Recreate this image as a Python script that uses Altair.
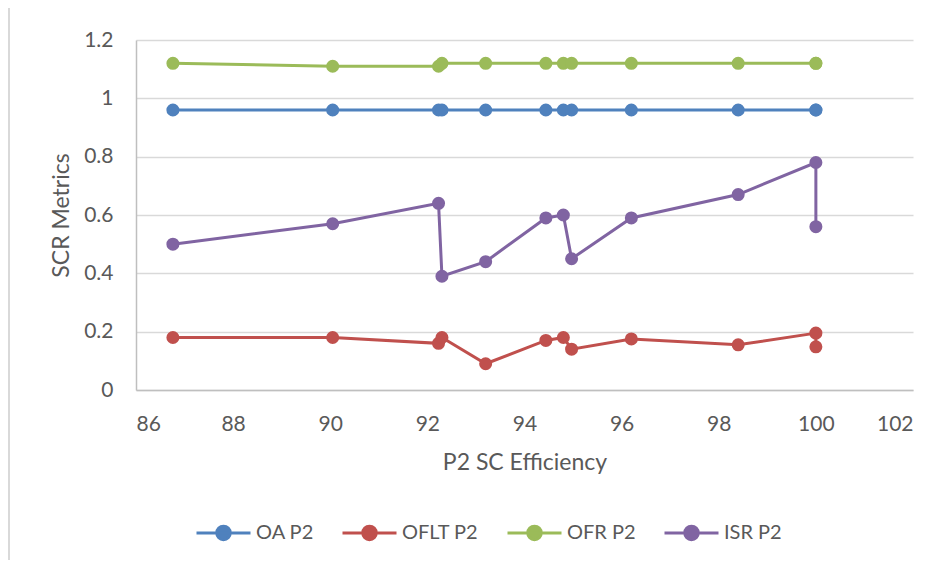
import altair as alt
import pandas as pd

# ---- data ----
efficiency = [86.76, 90.05, 92.23, 92.30, 93.20, 94.44, 94.80, 94.97, 96.20, 98.40, 100.0, 100.0]
oa_p2 = [0.96, 0.96, 0.96, 0.96, 0.96, 0.96, 0.96, 0.96, 0.96, 0.96, 0.96, 0.96]
oflt_p2 = [0.18, 0.18, 0.16, 0.18, 0.09, 0.17, 0.18, 0.14, 0.175, 0.155, 0.195, 0.148]
ofr_p2 = [1.12, 1.11, 1.11, 1.12, 1.12, 1.12, 1.12, 1.12, 1.12, 1.12, 1.12, 1.12]
isr_p2 = [0.50, 0.57, 0.64, 0.39, 0.44, 0.59, 0.60, 0.45, 0.59, 0.67, 0.78, 0.56]

series_names = ["OA P2", "OFLT P2", "OFR P2", "ISR P2"]
series_colors = ["#4F81BD", "#C0504D", "#9BBB59", "#8064A2"]
x_ticks = [86, 88, 90, 92, 94, 96, 98, 100, 102]
y_ticks = [0, 0.2, 0.4, 0.6, 0.8, 1.0, 1.2]

rows = []
for name, vals in zip(series_names, [oa_p2, oflt_p2, ofr_p2, isr_p2]):
    for i, (x, y) in enumerate(zip(efficiency, vals)):
        rows.append({"series": name, "idx": i, "x": x, "y": y})
df = pd.DataFrame(rows)

FONT = "Lato"
TXT = "#595959"
W, H = 777, 350

# line + dot legend symbol
sym_path = ("M -1 0 L 1 0 "
            "M -0.25 0 A 0.25 0.25 0 1 1 0.25 0 A 0.25 0.25 0 1 1 -0.25 0 Z")

color = alt.Color(
    "series:N",
    scale=alt.Scale(domain=series_names, range=series_colors),
    sort=series_names,
    legend=alt.Legend(
        title=None,
        orient="none",
        direction="horizontal",
        legendX=59,
        legendY=464,
        symbolType=sym_path,
        symbolSize=2916,
        symbolStrokeWidth=3,
        symbolOpacity=1,
        labelFont=FONT,
        labelFontSize=20,
        labelColor=TXT,
        labelOffset=4,
        columnPadding=22,
        padding=0,
    ),
)

x_enc = alt.X(
    "x:Q",
    scale=alt.Scale(domain=[86, 102], nice=False, zero=False),
    axis=alt.Axis(
        values=x_ticks,
        title="P2 SC Efficiency",
        grid=False,
        ticks=False,
        domainColor="#BFBFBF",
        domainWidth=1.5,
        labelPadding=23,
        titlePadding=17,
        format="d",
    ),
)
y_enc = alt.Y(
    "y:Q",
    scale=alt.Scale(domain=[0, 1.2], nice=False),
    axis=alt.Axis(
        values=y_ticks,
        title="SCR Metrics",
        grid=True,
        gridColor="#D9D9D9",
        gridWidth=1.5,
        ticks=False,
        domainColor="#BFBFBF",
        domainWidth=1.5,
        labelPadding=23,
        titlePadding=10,
        labelExpr="datum.value == 0 ? '0' : datum.value == 1 ? '1' : format(datum.value, '.1f')",
    ),
)

lines = alt.Chart(df).mark_line(strokeWidth=3).encode(
    x=x_enc, y=y_enc, color=color, order=alt.Order("idx:Q")
)
points = alt.Chart(df).mark_point(filled=True, size=170, opacity=1).encode(
    x="x:Q", y="y:Q", color=alt.Color("series:N", legend=None,
                                      scale=alt.Scale(domain=series_names, range=series_colors))
)

border = alt.Chart(pd.DataFrame({"a": [0]})).mark_rule(color="#D9D9D9", strokeWidth=2).encode(
    x=alt.value(-127), y=alt.value(-40), y2=alt.value(530)
)

chart = (
    alt.layer(lines, points, border)
    .properties(
        width=W,
        height=H,
        autosize=alt.AutoSizeParams(type="none"),
        padding={"left": 128, "top": 32, "right": 30, "bottom": 170},
    )
    .configure_view(stroke=None)
    .configure_axis(
        labelFont=FONT,
        labelFontSize=21,
        labelColor=TXT,
        titleFont=FONT,
        titleFontSize=23,
        titleColor=TXT,
        titleFontWeight="normal",
    )
)

chart.save("out.html", embed_options={"renderer": "svg", "actions": False})
